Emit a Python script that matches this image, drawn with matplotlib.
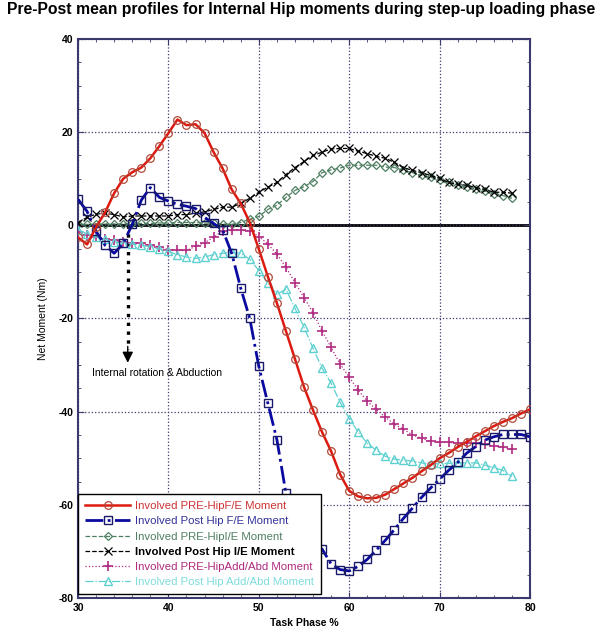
import matplotlib
matplotlib.use("Agg")
import matplotlib.pyplot as plt
import numpy as np

plt.rcParams['font.family'] = ['Liberation Sans', 'DejaVu Sans']
plt.rcParams['axes.unicode_minus'] = False

# task phase (%) for each series
phase_full = np.arange(30, 81)   # 30..80
phase_short = np.arange(30, 79)  # 30..78

pre_fe = [-2.6, -4.1, -0.4, 2.8, 6.9, 10.0, 11.4, 12.4, 14.4, 17.0,
          19.8, 22.7, 21.5, 21.7, 19.8, 15.7, 12.2, 7.7, 4.7, 0.6,
          -5.1, -11.0, -16.7, -22.7, -28.7, -34.7, -39.7, -44.4, -48.5, -53.5,
          -57.0, -58.2, -58.6, -58.5, -57.8, -56.6, -55.4, -54.2, -52.8, -51.5,
          -50.0, -48.9, -47.6, -46.5, -45.3, -44.2, -43.1, -42.2, -41.4, -40.4,
          -39.5]
post_fe = [5.6, 3.0, -1.3, -4.3, -6.0, -3.9, 0.2, 5.4, 8.1, 6.0,
           5.2, 4.5, 4.1, 3.6, 1.7, 0.4, -1.0, -6.0, -13.5, -20.0,
           -30.3, -38.2, -46.0, -57.5, -63.0, -66.5, -68.5, -69.5, -72.7, -73.9,
           -74.2, -73.2, -71.7, -69.7, -67.6, -65.3, -62.9, -60.7, -58.4, -56.4,
           -54.5, -52.6, -50.9, -48.9, -47.5, -46.1, -45.4, -44.9, -44.9, -44.9,
           -45.4]
pre_ie = [0.3, 0.2, 0.2, 0.3, 0.3, 0.3, 0.4, 0.4, 0.4, 0.5,
          0.5, 0.6, 0.6, 0.6, 0.5, 0.4, 0.3, 0.2, 0.6, 1.3,
          1.9, 3.4, 4.3, 6.0, 7.5, 8.3, 9.4, 11.3, 11.9, 12.3,
          12.9, 12.9, 12.9, 12.9, 12.5, 12.4, 11.8, 11.3, 10.7, 10.3,
          9.7, 9.2, 8.6, 8.2, 7.8, 7.3, 6.8, 6.4, 5.8]
post_ie = [0.6, 1.7, 2.4, 2.6, 2.3, 1.8, 2.0, 2.0, 2.0, 2.0,
           2.0, 2.3, 2.3, 2.6, 2.9, 3.4, 3.9, 3.9, 4.7, 5.8,
           7.1, 8.2, 9.2, 10.9, 12.4, 13.7, 15.0, 15.7, 16.4, 16.5,
           16.5, 15.9, 15.4, 14.8, 14.4, 13.5, 12.4, 11.8, 11.3, 10.7,
           10.1, 9.2, 8.8, 8.6, 8.1, 7.7, 7.1, 7.1, 6.9]
pre_aa = [-1.5, -2.0, -2.4, -2.9, -3.2, -3.6, -3.8, -3.9, -4.3, -4.6,
          -5.2, -5.4, -5.4, -4.5, -3.7, -2.6, -1.2, -1.1, -1.1, -1.2,
          -2.4, -4.0, -6.2, -9.0, -12.3, -15.5, -18.8, -22.7, -26.2, -29.8,
          -32.6, -35.4, -37.8, -39.5, -41.2, -42.7, -43.8, -45.0, -45.7, -46.4,
          -46.6, -46.6, -46.8, -46.8, -46.8, -47.0, -47.4, -47.6, -48.1]
post_aa = [-0.9, -1.8, -2.5, -3.0, -3.6, -3.8, -4.0, -4.3, -4.6, -5.1,
           -5.6, -6.3, -6.8, -7.1, -6.8, -6.3, -6.0, -5.8, -6.0, -7.3,
           -9.7, -12.4, -14.8, -13.7, -17.8, -21.9, -26.4, -30.7, -33.9, -38.0,
           -41.5, -44.4, -46.8, -48.3, -49.6, -50.2, -50.4, -50.6, -51.0, -51.3,
           -51.1, -51.1, -51.0, -51.0, -51.0, -51.5, -52.0, -52.6, -53.9]

labels = ["Involved PRE-HipF/E Moment",
          "Involved Post Hip F/E Moment",
          "Involved PRE-HipI/E Moment",
          "Involved Post Hip I/E Moment",
          "Involved PRE-HipAdd/Abd Moment",
          "Involved Post Hip Add/Abd Moment"]

# annotation arrow: x position, start, tip
arrow_x, arrow_top, arrow_tip = 35.5, 0, -29.5

frame_col = '#3a3a6e'

fig = plt.figure(figsize=(6.02, 6.38), dpi=100, facecolor='white')
ax = fig.add_axes([0.1296, 0.0627, 0.7508, 0.8762])

# zero reference line
ax.axhline(0, color='black', lw=2, zorder=1)

ax.plot(phase_full, pre_fe, color='#dd1a10', lw=1.8, marker='o', ms=5.5,
        mfc='none', mec='#b04a3a', mew=0.9, label=labels[0], zorder=5)
ax.plot(phase_full, post_fe, color='#0a0aa0', lw=2, ls='-.', marker='s', ms=5.5,
        mfc='none', mec='#1a1a6a', mew=1.0, label=labels[1], zorder=4)
ax.plot(phase_short, pre_ie, color='#4f7f62', lw=0.9, ls='--', marker='D', ms=4.3,
        mfc='none', mec='#4f7f62', mew=0.9, label=labels[2], zorder=3)
ax.plot(phase_short, post_ie, color='black', lw=0.9, ls='--', marker='x', ms=6,
        mew=0.9, label=labels[3], zorder=3)
ax.plot(phase_short, pre_aa, color='#b02a80', lw=0.9, ls=':', marker='+', ms=7,
        mew=1.2, label=labels[4], zorder=3)
ax.plot(phase_short, post_aa, color='#5fd0d0', lw=0.9, ls='-.', marker='^', ms=6,
        mfc='none', mec='#5fd0d0', mew=1.0, label=labels[5], zorder=3)

# dotted shaft plus a solid head
ax.plot([arrow_x, arrow_x], [arrow_top, arrow_tip + 3], color='black',
        ls=':', lw=2.4, zorder=2)
ax.annotate('', xy=(arrow_x, arrow_tip), xytext=(arrow_x, arrow_tip + 3.5),
            arrowprops=dict(arrowstyle='-|>', lw=1, color='black',
                            mutation_scale=16, shrinkA=0, shrinkB=0), zorder=2)
ax.text(31.5, -31.8, 'Internal rotation & Abduction', fontsize=7.5,
        va='center', ha='left')

ax.set_xlim(30, 80)
ax.set_ylim(-80, 40)
ax.set_xticks(np.arange(30, 81, 10))
ax.set_yticks(np.arange(-80, 41, 20))
ax.set_xticks(np.arange(30, 81, 2), minor=True)
ax.set_yticks(np.arange(-80, 41, 5), minor=True)
ax.tick_params(which='both', direction='in', top=True, right=True,
               color=frame_col, labelsize=7.5)
ax.tick_params(which='major', length=4)
ax.tick_params(which='minor', length=2.5)
for lbl in ax.get_xticklabels() + ax.get_yticklabels():
    lbl.set_fontweight('bold')
for sp in ax.spines.values():
    sp.set_color(frame_col)
    sp.set_linewidth(1.5)

ax.grid(True, which='major', ls=':', color=frame_col, lw=0.9)

ax.set_xlabel('Task Phase %', fontsize=7.5, fontweight='bold', labelpad=4)
ax.set_ylabel('Net Moment (Nm)', fontsize=7.5, labelpad=7)

fig.suptitle('Pre-Post mean profiles for Internal Hip moments during step-up loading phase',
             fontsize=11.3, fontweight='bold', x=0.5, y=0.997)

leg = ax.legend(loc='lower left', bbox_to_anchor=(0.0, 0.007), fontsize=8.2,
                frameon=True, fancybox=False, edgecolor='black', framealpha=1,
                handlelength=4.0, borderpad=0.6, labelspacing=0.46,
                handletextpad=0.4, borderaxespad=0)
leg.get_frame().set_linewidth(1.0)
text_cols = ['#cc3333', '#33339a', '#4f7f62', 'black', '#b02a80', '#7fdcdc']
for t, c in zip(leg.get_texts(), text_cols):
    t.set_color(c)
leg.get_texts()[3].set_fontweight('bold')
leg.set_zorder(10)

plt.savefig('out.png', dpi=100)
